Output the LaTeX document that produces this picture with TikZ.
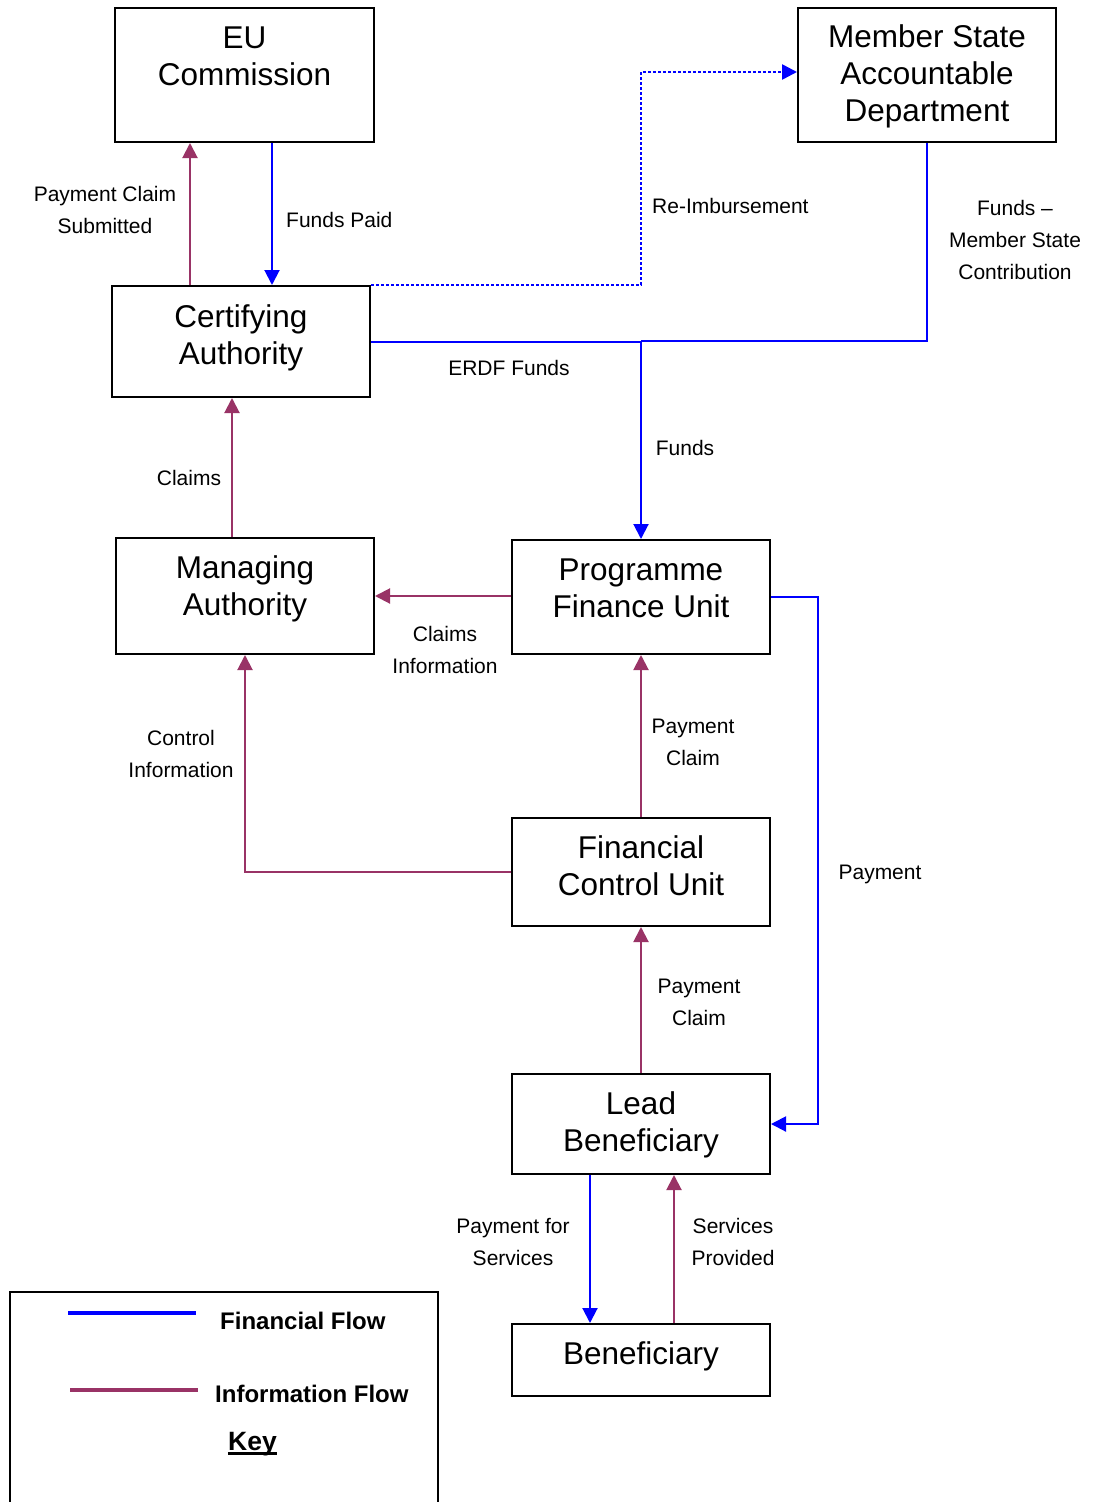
\documentclass[tikz,border=0pt]{standalone}
\usepackage{fontspec}
\setmainfont{Liberation Sans}
\usetikzlibrary{arrows.meta}
\definecolor{finblue}{HTML}{0000FF}
\definecolor{infopurple}{HTML}{993366}
\tikzset{
  boxnode/.style={draw=black, line width=2pt, rectangle, inner sep=0pt, minimum width=258pt},
  boxtext/.style={align=center, inner sep=0pt, font=\fontsize{31.5}{37}\selectfont},
  lbl/.style={align=center, inner sep=0pt, font=\fontsize{21}{32}\selectfont},
  keytext/.style={inner sep=0pt, anchor=west, font=\fontsize{24}{28}\selectfont\bfseries},
  tip/.tip={Triangle[length=15pt,width=15pt]},
  fin/.style={draw=finblue, line width=2pt, -tip, fill=none},
  info/.style={draw=infopurple, line width=2pt, -tip},
  reimb/.style={draw=finblue, line width=2.6pt, dash pattern=on 2.6pt off 2.4pt, -tip},
}
\begin{document}
\begin{tikzpicture}[x=1pt, y=-1pt, >=Triangle]
\useasboundingbox (0,0) rectangle (1094,1502);
\fill[white] (0,0) rectangle (1094,1502);

% boxes
\node[boxnode, minimum width=259pt, minimum height=134pt] (eu) at (244.5,75) {};
\node[boxnode, minimum height=134pt] (ms) at (927,75) {};
\node[boxnode, minimum height=111pt] (ca) at (241,341.5) {};
\node[boxnode, minimum height=116pt] (ma) at (245,596) {};
\node[boxnode, minimum height=114pt] (pfu) at (641,597) {};
\node[boxnode, minimum height=108pt] (fcu) at (641,872) {};
\node[boxnode, minimum height=100pt] (lb) at (641,1124) {};
\node[boxnode, minimum height=72pt] (ben) at (641,1360) {};

% box texts
\node[boxtext] (eut) at (244.5,56) {EU\\Commission};
\node[boxtext] (mst) at (927,76.5) {Member State\\Accountable\\Department};
\node[boxtext] (cat) at (241,337.5) {Certifying\\Authority};
\node[boxtext] (mat) at (245,589) {Managing\\Authority};
\node[boxtext] (pfut) at (641,588) {Programme\\Finance Unit};
\node[boxtext] (fcut) at (641,866) {Financial\\Control Unit};
\node[boxtext] (lbt) at (641,1125) {Lead\\Beneficiary};
\node[boxtext] (bent) at (641,1356) {Beneficiary};

% guide coordinates
\coordinate (g190) at (190,0);
\coordinate (g272) at (272,0);
\coordinate (g232) at (232,0);
\coordinate (g818) at (818,0);
\coordinate (g590) at (590,0);
\coordinate (g674) at (674,0);
\coordinate (gy72) at (0,72);
\coordinate (gy340) at (0,340.5);

% connectors
\draw[info] (g190 |- ca.north) -- (g190 |- eu.south);
\draw[fin] (g272 |- eu.south) -- (g272 |- ca.north);
\draw[reimb] (ca.north east) -- (ca.north east -| pfu.north) -- (gy72 -| pfu.north) -- (gy72 -| ms.west);
\draw[draw=finblue, line width=2pt] (ms.south) -- (ms.south |- gy340) -- (gy340 -| pfu.north);
\draw[draw=finblue, line width=2pt] (ca.east) -- (ca.east -| pfu.north);
\draw[fin] (gy340 -| pfu.north) -- (pfu.north);
\draw[info] (g232 |- ma.north) -- (g232 |- ca.south);
\draw[info] (pfu.west |- ma.east) -- (ma.east);
\draw[info] (fcu.north) -- (pfu.south);
\draw[info] (fcu.west) -- (fcu.west -| ma.south) -- (ma.south);
\draw[fin] (pfu.east) -- (pfu.east -| g818) -- (g818 |- lb.east) -- (lb.east);
\draw[info] (lb.north) -- (fcu.south);
\draw[fin] (g590 |- lb.south) -- (g590 |- ben.north);
\draw[info] (g674 |- ben.north) -- (g674 |- lb.south);

% labels
\node[lbl] (l1) at (105,210) {Payment Claim\\Submitted};
\node[lbl, anchor=west] (l2) at (286,219.5) {Funds Paid};
\node[lbl, anchor=west] (l3) at (652,206) {Re-Imbursement};
\node[lbl] (l4) at (1015,240) {Funds –\\Member State\\Contribution};
\node[lbl] (l5) at (509,368) {ERDF Funds};
\node[lbl] (l6) at (685,448) {Funds};
\node[lbl] (l7) at (189,478) {Claims};
\node[lbl] (l8) at (445,650) {Claims\\Information};
\node[lbl] (l9) at (693,742) {Payment\\Claim};
\node[lbl] (l10) at (181,754) {Control\\Information};
\node[lbl] (l11) at (880,874.5) {Payment};
\node[lbl] (l12) at (699,1002) {Payment\\Claim};
\node[lbl] (l13) at (513,1242) {Payment for\\Services};
\node[lbl] (l14) at (733,1242) {Services\\Provided};

% key
\draw[line width=2pt] (10,1504) -- (10,1292) -- (438,1292) -- (438,1504);
\coordinate (kb1) at (68,1313);
\coordinate (kb2) at (196,1313);
\coordinate (kp1) at (70,1390);
\coordinate (kp2) at (198,1390);
\draw[finblue, line width=4.5pt] (kb1) -- (kb2);
\draw[infopurple, line width=4.5pt] (kp1) -- (kp2);
\node[keytext] (k1) at (220,1321) {Financial Flow};
\node[keytext] (k2) at (215,1394) {Information Flow};
\node[inner sep=0pt, anchor=base, font=\fontsize{26.5}{30}\selectfont\bfseries] (k3) at (252.5,1450) {Key};
\draw[line width=2.2pt] ([yshift=-3.5pt]k3.base west) -- ([yshift=-3.5pt]k3.base east);
\end{tikzpicture}
\end{document}
